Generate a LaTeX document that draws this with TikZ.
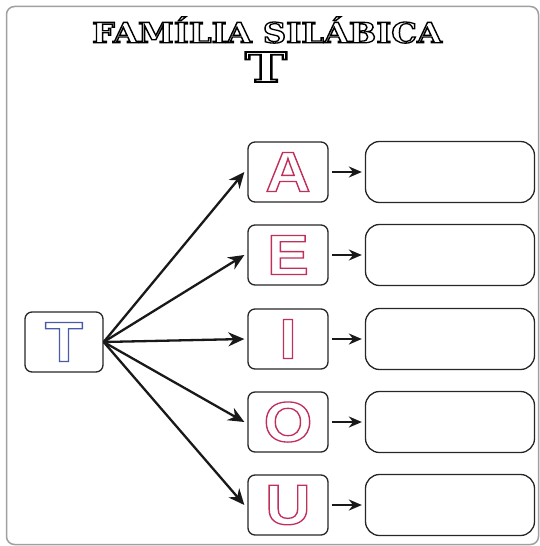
\documentclass[tikz,border=0pt]{standalone}
\usepackage{fontspec}
\usetikzlibrary{arrows.meta}
\newfontfamily\lsans{Liberation Sans}
\newfontfamily\dserif{DejaVu Serif}
\definecolor{crim}{HTML}{C0305A}
\definecolor{tblue}{HTML}{4A5AA8}
\definecolor{framegray}{HTML}{A0A0A0}
\newcommand{\outl}[2]{\special{pdf:literal direct q #1 w 1 Tr}#2\special{pdf:literal direct Q}}
\tikzset{
  vbox/.style={draw=black!85, line width=1.3bp, rounded corners=7bp, minimum width=80bp, minimum height=60bp, inner sep=0pt},
  abox/.style={draw=black!85, line width=1.3bp, rounded corners=14bp, minimum width=169bp, minimum height=61bp, inner sep=0pt},
  bigarrow/.style={line width=2.3bp, black!90, -{Stealth[length=16bp,width=14bp]}},
  smallarrow/.style={line width=2.3bp, black!90, -{Stealth[length=13bp,width=11bp]}},
}
\newcommand{\vowel}[1]{\scalebox{1.1}[1]{\lsans\bfseries\fontsize{57}{60}\selectfont\color{crim}\outl{1.3}{#1}}}
\begin{document}
\begin{tikzpicture}[x=1bp,y=-1bp]
\useasboundingbox (0,0) rectangle (540,546);
\draw[framegray, line width=1.5bp, rounded corners=8bp] (6.5,6.5) rectangle (538.5,544.5);
% title
\node[inner sep=0pt] (title) at (267,30) {\resizebox{350bp}{26bp}{\dserif\bfseries\fontsize{22}{26}\selectfont\outl{1.0}{FAMÍLIA SILÁBICA}}};
\node[inner sep=0pt] (bigT) at (266,67) {\resizebox{42bp}{30bp}{\dserif\bfseries\fontsize{40}{44}\selectfont\outl{1.7}{T}}};
% T box
\node[vbox, minimum width=78bp] (t) at (64,342) {\scalebox{1.1}[1]{\lsans\bfseries\fontsize{57}{60}\selectfont\color{tblue}\outl{1.3}{T}}};
% vowels
\node[vbox] (a) at (288,172) {\vowel{A}};
\node[vbox] (e) at (288,255) {\vowel{E}};
\node[vbox] (i) at (288,339) {\vowel{I}};
\node[vbox] (o) at (288,422) {\vowel{O}};
\node[vbox] (u) at (288,505) {\vowel{U}};
% answer boxes
\node[abox] (ra) at (450,172) {};
\node[abox] (re) at (450,255) {};
\node[abox] (ri) at (450,339) {};
\node[abox] (ro) at (450,422) {};
\node[abox] (ru) at (450,505) {};
% big arrows
\foreach \v in {a,e,i,o,u}{
  \draw[bigarrow] (t.east) -- ([xshift=-3bp]\v.west);
}
% small arrows
\draw[smallarrow] ([xshift=3bp]a.east) -- ([xshift=-3bp]ra.west);
\draw[smallarrow] ([xshift=3bp]e.east) -- ([xshift=-3bp]re.west);
\draw[smallarrow] ([xshift=3bp]i.east) -- ([xshift=-3bp]ri.west);
\draw[smallarrow] ([xshift=3bp]o.east) -- ([xshift=-3bp]ro.west);
\draw[smallarrow] ([xshift=3bp]u.east) -- ([xshift=-3bp]ru.west);
\end{tikzpicture}
\end{document}
